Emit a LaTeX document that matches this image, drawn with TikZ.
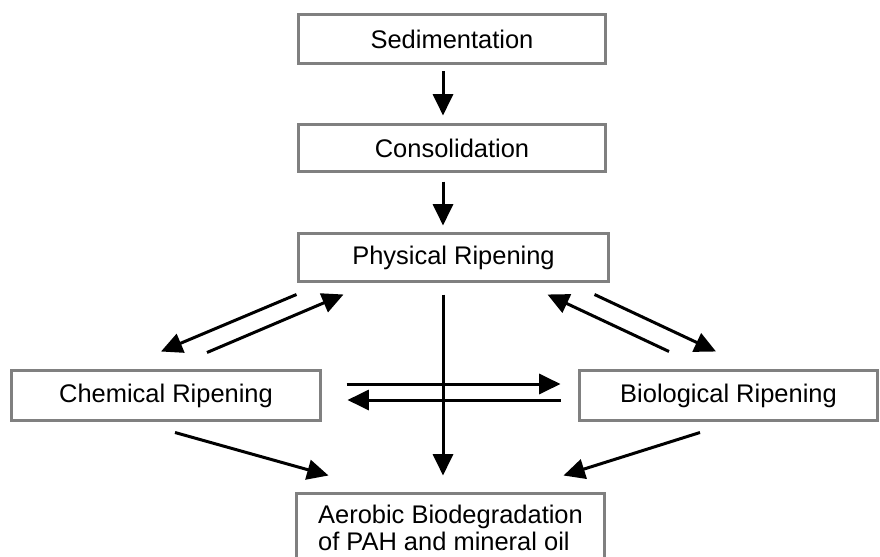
\documentclass[tikz,border=0pt]{standalone}
\usepackage{fontspec}
\setmainfont{Liberation Sans}
\usetikzlibrary{arrows.meta,calc}

\tikzset{every picture/.style={line width=0.75pt}}
\tikzset{
  stagebox/.style={draw=gray, line width=2.25pt, fill=white, inner sep=0pt,
    align=center, font=\fontsize{19.1}{20.25}\selectfont},
  flow/.style={line width=2.25pt, -{Triangle[length=16pt,width=15pt]}}
}

\begin{document}
\begin{tikzpicture}[x=0.75pt,y=0.75pt,yscale=-1,xscale=1]
\useasboundingbox (0,0) rectangle (880,556);

%Shape: Rectangle [sedimentation]
\node (sed) at (452,39) [stagebox, minimum width=230.25pt, minimum height=36.75pt] {Sedimentation};
%Shape: Rectangle [consolidation]
\node (cons) at (452,148) [stagebox, minimum width=230.25pt, minimum height=35.25pt] {Consolidation};
%Shape: Rectangle [physical ripening]
\node (phys) at (453.5,257.5) [stagebox, minimum width=232.5pt, minimum height=36pt] {Physical Ripening};
%Shape: Rectangle [chemical ripening]
\node (chem) at (166,395.5) [stagebox, minimum width=231.75pt, minimum height=37.5pt] {Chemical Ripening};
%Shape: Rectangle [biological ripening]
\node (biol) at (728.5,395.5) [stagebox, minimum width=223.5pt, minimum height=37.5pt] {Biological Ripening};
%Shape: Rectangle [aerobic biodegradation]
\node (aer) at (450.5,528) [stagebox, align=left, minimum width=231pt, minimum height=51.75pt] {Aerobic Biodegradation\\of PAH and mineral oil};

%Straight Lines [main chain]
\draw [flow] ($(sed.south)+(-9,6.5)$) -- ($(cons.north)+(-9,-7.5)$) ;
\draw [flow] ($(cons.south)+(-9,8.5)$) -- ($(phys.north)+(-10.5,-6.5)$) ;
\draw [flow] ($(phys.south)+(-10.5,11.5)$) -- ($(aer.north)+(-7.5,-16.5)$) ;

%Straight Lines [physical <-> chemical]
\draw [flow] ($(phys.south west)+(-0.5,11.5)$) -- ($(chem.north)+(-5,-17.5)$) ;
\draw [flow] ($(chem.north)+(41,-16.5)$) -- ($(phys.south west)+(46.5,11.5)$) ;
%Straight Lines [physical <-> biological]
\draw [flow] ($(biol.north)+(-59.5,-17.5)$) -- ($(phys.south east)+(-62.5,11.5)$) ;
\draw [flow] ($(phys.south east)+(-15.5,11.5)$) -- ($(biol.north)+(-12.5,-17.5)$) ;

%Straight Lines [chemical <-> biological]
\draw [flow] ($(chem.east)+(24.5,-11.5)$) -- ($(biol.west)+(-17.5,-11.5)$) ;
\draw [flow] ($(biol.west)+(-17.5,4.5)$) -- ($(chem.east)+(25.5,4.5)$) ;

%Straight Lines [into aerobic biodegradation]
\draw [flow] ($(chem.south)+(9,10.5)$) -- ($(aer.north west)+(33.5,-16.5)$) ;
\draw [flow] ($(biol.south)+(-28.5,10.5)$) -- ($(aer.north east)+(-42.5,-16.5)$) ;
\end{tikzpicture}
\end{document}
